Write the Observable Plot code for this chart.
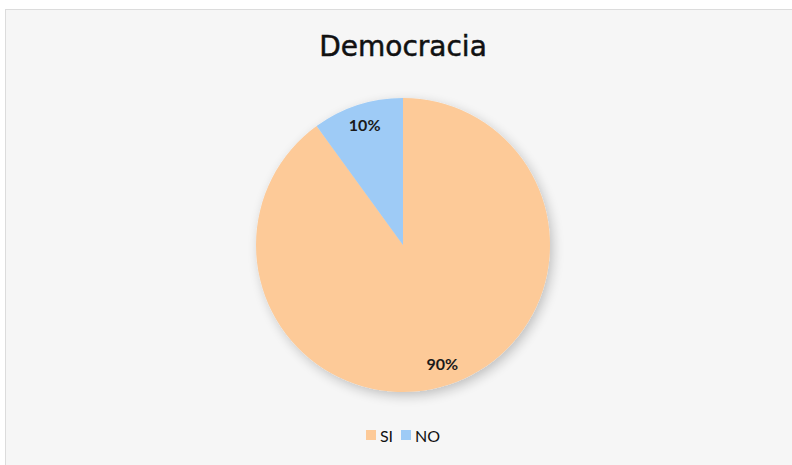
<!DOCTYPE html>
<html>
<head>
<meta charset="utf-8">
<script src="https://cdn.jsdelivr.net/npm/d3@7"></script>
<script src="https://cdn.jsdelivr.net/npm/@observablehq/plot@0.6"></script>
<style>
  html, body { margin: 0; padding: 0; background: #ffffff; }
  #wrap { position: relative; width: 792px; height: 465px; overflow: hidden; }
  #frame { position: absolute; left: 5px; top: 9px; width: 800px; height: 470px;
           background: #f6f6f6; border: 1px solid #dcdcdc; box-sizing: border-box; }
  #title { position: absolute; left: 0; width: 806px; top: 30px; text-align: center;
           font-family: "DejaVu Sans", sans-serif; font-size: 28px; color: #111;
           -webkit-text-stroke: 0.5px #111; }
  #legend { position: absolute; top: 424px; left: 0; width: 806px; text-align: center;
            font-family: Lato, sans-serif; font-size: 16px; color: #111; }
  #legend span.item { display: inline-flex; align-items: center; margin: 0 4px; }
  #legend span.sw { display: inline-block; width: 10px; height: 10px; margin-right: 4px; }
  #chart { position: absolute; left: 0; top: 0; }
</style>
</head>
<body>
<div id="wrap">
  <div id="frame"></div>
  <div id="chart"></div>
  <div id="title">Democracia</div>
  <div id="legend"></div>
</div>
<script>
const categories = ["SI", "NO"];
const values = [90, 10];
const labels = ["90%", "10%"];
const colors = ["#fdca98", "#9ecbf6"];

const W = 792, H = 465;
const cx = 403, cy = 245, R = 147;

const data = categories.map((c, i) => ({category: c, value: values[i], label: labels[i]}));
const pie = d3.pie().value(d => d.value).sort(null).startAngle(0).endAngle(2 * Math.PI);
const arcs = pie(data);
const labelR = 0.855;
const labelData = arcs.map(a => {
  const mid = (a.startAngle + a.endAngle) / 2;
  return {label: a.data.label, x: labelR * Math.sin(mid), y: labelR * Math.cos(mid)};
});

const xDomain = [-cx / R, (W - cx) / R];
const yDomain = [-(H - cy) / R, cy / R];

const pieMark = (index, scales) => {
  const x0 = scales.x(0), y0 = scales.y(0);
  const r = scales.x(1) - scales.x(0);
  const arc = d3.arc().innerRadius(0).outerRadius(r);
  const g = d3.create("svg:g");
  const defs = g.append("defs");
  const f = defs.append("filter").attr("id", "shadow").attr("x", "-30%").attr("y", "-30%").attr("width", "160%").attr("height", "160%");
  f.append("feGaussianBlur").attr("in", "SourceAlpha").attr("stdDeviation", 6);
  f.append("feOffset").attr("dx", 3).attr("dy", 4).attr("result", "ob");
  f.append("feComponentTransfer").append("feFuncA").attr("type", "linear").attr("slope", 0.22);
  const m = f.append("feMerge");
  m.append("feMergeNode");
  m.append("feMergeNode").attr("in", "SourceGraphic");
  const gg = g.append("g").attr("transform", `translate(${x0},${y0})`).attr("filter", "url(#shadow)");
  gg.selectAll("path").data(arcs).join("path")
    .attr("d", arc)
    .attr("fill", (d, i) => colors[i])
    .attr("stroke", "none");
  return g.node();
};

const plot = Plot.plot({
  width: W,
  height: H,
  margin: 0,
  x: {domain: xDomain, axis: null},
  y: {domain: yDomain, axis: null},
  style: {background: "transparent"},
  marks: [
    pieMark,
    Plot.text(labelData, {x: "x", y: "y", text: "label", fontSize: 16, fontWeight: "bold",
      fill: "#1a1a1a", fontFamily: "Lato"})
  ]
});
document.getElementById("chart").appendChild(plot);

const legend = document.getElementById("legend");
categories.forEach((c, i) => {
  const item = document.createElement("span");
  item.className = "item";
  const sw = document.createElement("span");
  sw.className = "sw";
  sw.style.background = colors[i];
  item.appendChild(sw);
  item.appendChild(document.createTextNode(c));
  legend.appendChild(item);
});
</script>
</body>
</html>
